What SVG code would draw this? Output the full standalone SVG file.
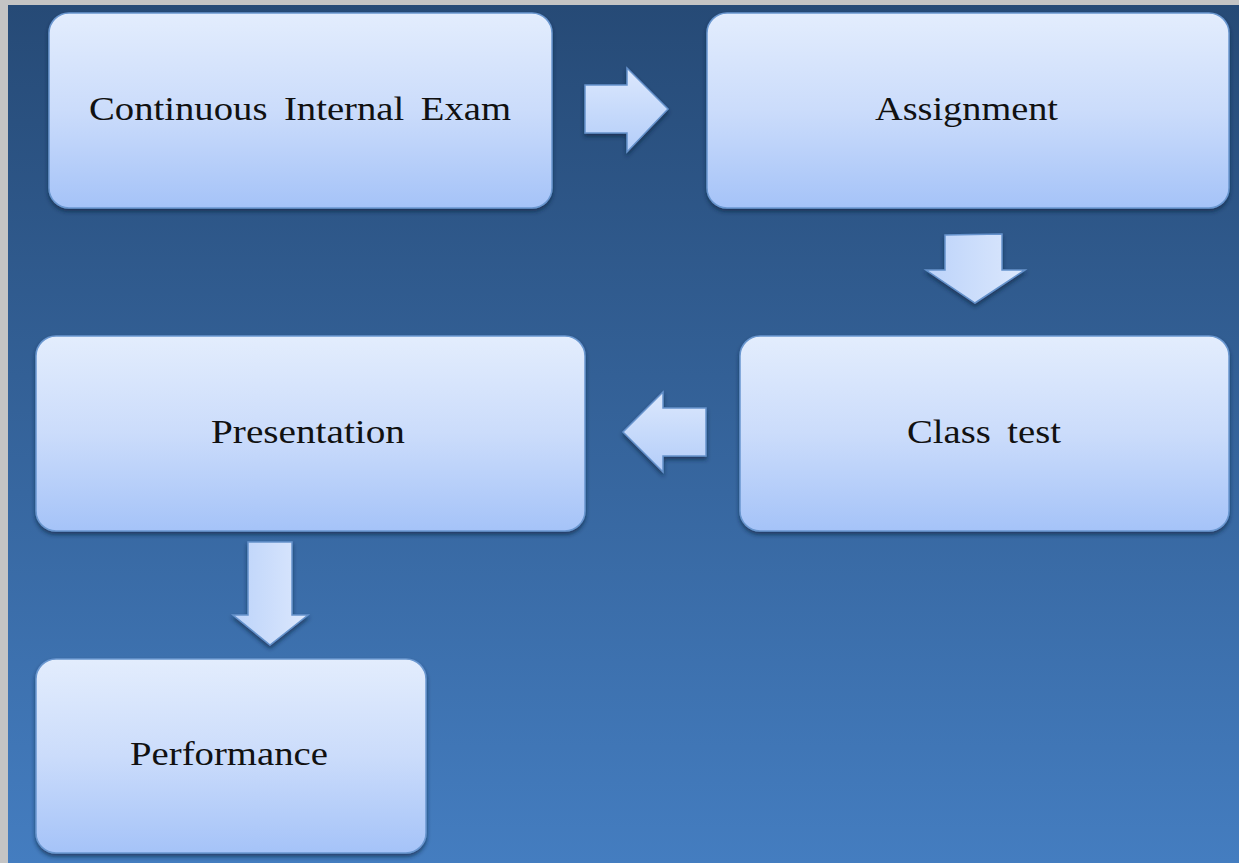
<svg xmlns="http://www.w3.org/2000/svg" width="1239" height="863" viewBox="0 0 1239 863">
<defs>
<linearGradient id="bg" x1="0" y1="0" x2="0" y2="1">
<stop offset="0" stop-color="#264a76"/>
<stop offset="1" stop-color="#447dc0"/>
</linearGradient>
<linearGradient id="box" x1="0" y1="0" x2="0" y2="1">
<stop offset="0" stop-color="#e3edfd"/>
<stop offset="0.5" stop-color="#cbdcfb"/>
<stop offset="1" stop-color="#a5c3f8"/>
</linearGradient>
<linearGradient id="arrH" x1="0" y1="0" x2="0" y2="1">
<stop offset="0" stop-color="#dce8fd"/>
<stop offset="1" stop-color="#b3cdf9"/>
</linearGradient>
<linearGradient id="arrV" x1="0" y1="0" x2="1" y2="0">
<stop offset="0" stop-color="#bcd3fa"/>
<stop offset="1" stop-color="#dce8fd"/>
</linearGradient>
<filter id="sh" x="-10%" y="-10%" width="120%" height="125%">
<feGaussianBlur in="SourceAlpha" stdDeviation="2"/>
<feOffset dx="0" dy="2.5" result="b"/>
<feFlood flood-color="#10243f" flood-opacity="0.65"/>
<feComposite in2="b" operator="in"/>
<feMerge><feMergeNode/><feMergeNode in="SourceGraphic"/></feMerge>
</filter>
<style>
.node rect{fill:url(#box);stroke:#6a97d0;stroke-width:1.5;filter:url(#sh)}
.node text{font-family:"Liberation Serif","Times New Roman",serif;font-size:34px;fill:#111;text-anchor:middle}
.ah{fill:url(#arrH);stroke:#6592cc;stroke-width:1.5;filter:url(#sh)}
.av{fill:url(#arrV);stroke:#6592cc;stroke-width:1.5;filter:url(#sh)}
</style>
</defs>
<rect x="0" y="0" width="1239" height="863" fill="#c4c4c4"/>
<rect x="8" y="5" width="1231" height="858" fill="url(#bg)"/>
<g id="connectors">
<polygon class="ah" points="585,85 627,85 627,68 668,109 627,152 627,133 585,133"/>
<polygon class="av" points="945,235 1002,234 1002,270 1025,270 975,303 926,270 945,270"/>
<polygon class="ah" points="706,408 663,408 663,392 623,432 663,472 663,456 706,456"/>
<polygon class="av" points="248,542 292,542 292,615 308,615 270,645 233,615 248,615"/>
</g>
<g id="node-cie" class="node">
<rect x="49" y="13" width="503" height="195" rx="20"/>
<text x="300" y="120" textLength="422" lengthAdjust="spacingAndGlyphs" word-spacing="6">Continuous Internal Exam</text>
</g>
<g id="node-assignment" class="node">
<rect x="707" y="13" width="522" height="195" rx="20"/>
<text x="966.5" y="120" textLength="183" lengthAdjust="spacingAndGlyphs">Assignment</text>
</g>
<g id="node-presentation" class="node">
<rect x="36" y="336" width="549" height="195" rx="20"/>
<text x="308" y="443" textLength="194" lengthAdjust="spacingAndGlyphs">Presentation</text>
</g>
<g id="node-classtest" class="node">
<rect x="740" y="336" width="489" height="195" rx="20"/>
<text x="984" y="443" textLength="154" lengthAdjust="spacingAndGlyphs" word-spacing="6">Class test</text>
</g>
<g id="node-performance" class="node">
<rect x="36" y="659" width="390" height="194" rx="20"/>
<text x="229" y="765" textLength="198" lengthAdjust="spacingAndGlyphs">Performance</text>
</g>
</svg>
